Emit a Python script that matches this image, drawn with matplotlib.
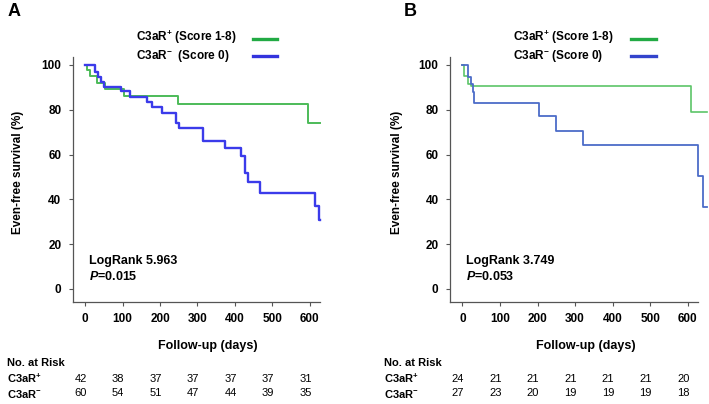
import matplotlib
matplotlib.use("Agg")
import matplotlib.pyplot as plt
from matplotlib.lines import Line2D
import matplotlib.transforms as mtransforms

plt.rcParams['font.family'] = ['Liberation Sans', 'DejaVu Sans']
plt.rcParams['mathtext.fontset'] = 'custom'
plt.rcParams['mathtext.rm'] = 'Liberation Sans:bold'
plt.rcParams['mathtext.bf'] = 'Liberation Sans:bold'
plt.rcParams['mathtext.it'] = 'Liberation Sans:bold:italic'

# ---------------- data ----------------
# Panel A
a_pos_t = [0, 5, 12, 31, 54, 105, 247, 596, 627]
a_pos_s = [100, 97.7, 94.9, 92.1, 89.4, 86.1, 82.5, 74.3, 74.3]
a_neg_t = [0, 27, 35, 43, 51, 96, 120, 164, 178, 206, 244, 250, 315, 373, 416, 427, 435, 467, 613, 625, 627]
a_neg_s = [100, 96.8, 94.8, 92.5, 90.3, 88.2, 85.9, 83.6, 81.2, 78.7, 74.0, 71.7, 65.9, 62.8, 59.4, 51.9, 47.9, 43.0, 37.0, 30.8, 30.8]
# Panel B
b_pos_t = [0, 3, 16, 23, 609, 650]
b_pos_s = [100, 95.2, 91.4, 90.8, 78.8, 78.8]
b_neg_t = [0, 16, 22, 29, 32, 204, 249, 320, 628, 641, 650]
b_neg_s = [100, 94.8, 91.4, 88.1, 83.2, 77.2, 70.7, 64.4, 50.5, 36.5, 36.5]

risk_times = [0, 100, 200, 300, 400, 500, 600]
a_risk_pos = [42, 38, 37, 37, 37, 37, 31]
a_risk_neg = [60, 54, 51, 47, 44, 39, 35]
b_risk_pos = [24, 21, 21, 21, 21, 21, 20]
b_risk_neg = [27, 23, 20, 19, 19, 19, 18]

xticks = [0, 100, 200, 300, 400, 500, 600]
yticks = [0, 20, 40, 60, 80, 100]

W, H = 709, 404
fig = plt.figure(figsize=(W / 100, H / 100), dpi=100)

def fx(px):
    return px / W

def fy(py):
    return 1 - py / H

panels = [
    dict(left=72.7, right=320.0, xmax=627, letter='A', letter_x=8,
         ylab_x=18.5,
         pos=(a_pos_t, a_pos_s), neg=(a_neg_t, a_neg_s),
         gcol='#4cbb58', bcol='#3b3bea', lwg=1.4, lwb=1.7,
         leg_text_x=136.5, leg_line=(253, 277),
         neg_label=r'C3aR$^{-}$  (Score 0)',
         lr='LogRank 5.963', p='=0.015', stat_x=89,
         risk_label_x=7, risk=(a_risk_pos, a_risk_neg),
         leg_g='#22aa44', leg_b='#3333dd'),
    dict(left=450.0, right=698.3, xmax=628, letter='B', letter_x=404,
         ylab_x=397,
         pos=(b_pos_t, b_pos_s), neg=(b_neg_t, b_neg_s),
         gcol='#5cc568', bcol='#4c6cc8', lwg=1.2, lwb=1.3,
         leg_text_x=513.3, leg_line=(631, 656),
         neg_label=r'C3aR$^{-}$ (Score 0)',
         lr='LogRank 3.749', p='=0.053', stat_x=466.5,
         risk_label_x=384, risk=(b_risk_pos, b_risk_neg),
         leg_g='#22aa44', leg_b='#3344cc'),
]

top_px, bot_px = 56.7, 301.7
xmin = -33
ymin, ymax = -5.7, 103.7

for P in panels:
    ax = fig.add_axes([fx(P['left']), fy(bot_px), (P['right'] - P['left']) / W,
                       (bot_px - top_px) / H])
    ax.set_xlim(xmin, P['xmax'])
    ax.set_ylim(ymin, ymax)
    ax.step(P['pos'][0], P['pos'][1], where='post', color=P['gcol'],
            lw=P['lwg'], clip_on=False, zorder=3)
    ax.step(P['neg'][0], P['neg'][1], where='post', color=P['bcol'],
            lw=P['lwb'], clip_on=False, zorder=4)
    for s in ['top', 'right']:
        ax.spines[s].set_visible(False)
    for s in ['left', 'bottom']:
        ax.spines[s].set_color('#555555')
        ax.spines[s].set_linewidth(0.9)
    ax.set_xticks(xticks)
    ax.set_yticks(yticks)
    ax.tick_params(direction='out', length=3.2, width=0.8, color='#555555',
                   labelsize=8.5, pad=5)
    for lab in ax.get_xticklabels() + ax.get_yticklabels():
        lab.set_fontweight('bold')
    ax.tick_params(axis='x', pad=5)
    ax.set_ylabel('Even-free survival (%)', fontsize=8.5, fontweight='bold')
    ax.yaxis.set_label_coords((P['ylab_x'] - P['left']) / (P['right'] - P['left']),
                              (bot_px - 172) / (bot_px - top_px),
                              transform=ax.transAxes)
    ax.yaxis.label.set_va('center')
    ax.text(0.547, (bot_px - 346) / (bot_px - top_px), 'Follow-up (days)',
            transform=ax.transAxes, ha='center', va='center',
            fontsize=9, fontweight='bold')

    # legend (manual, text then line key)
    fig.text(fx(P['leg_text_x']), fy(37.5), r'C3aR$^{+}$ (Score 1-8)',
             ha='left', va='center', fontsize=8.5, fontweight='bold')
    fig.text(fx(P['leg_text_x']), fy(55.5), P['neg_label'],
             ha='left', va='center', fontsize=8.5, fontweight='bold')
    x0, x1 = P['leg_line']
    fig.add_artist(Line2D([fx(x0), fx(x1)], [fy(39.3), fy(39.3)],
                          color=P['leg_g'], lw=2.4, transform=fig.transFigure))
    fig.add_artist(Line2D([fx(x0), fx(x1)], [fy(56), fy(56)],
                          color=P['leg_b'], lw=2.4, transform=fig.transFigure))

    # stats
    fig.text(fx(P['stat_x']), fy(260.7), P['lr'], ha='left', va='center',
             fontsize=9, fontweight='bold')
    fig.text(fx(P['stat_x']), fy(276.5), r'$P$' + P['p'], ha='left', va='center',
             fontsize=9, fontweight='bold')

    # panel letter
    fig.text(fx(P['letter_x']), fy(11.5), P['letter'], ha='left', va='center',
             fontsize=13, fontweight='bold')

    # risk table
    fig.text(fx(P['risk_label_x']), fy(363.5), 'No. at Risk', ha='left',
             va='center', fontsize=8, fontweight='bold')
    fig.text(fx(P['risk_label_x']), fy(378.5), r'C3aR$^{+}$', ha='left',
             va='center', fontsize=8, fontweight='bold')
    fig.text(fx(P['risk_label_x']), fy(393.5), r'C3aR$^{-}$', ha='left',
             va='center', fontsize=8, fontweight='bold')
    trans = mtransforms.blended_transform_factory(ax.transData, fig.transFigure)
    trans = mtransforms.offset_copy(trans, fig=fig, x=-4.5, y=0, units='dots')
    for t, vp, vn in zip(risk_times, P['risk'][0], P['risk'][1]):
        ax.text(t, fy(378.5), str(vp), transform=trans, ha='center',
                va='center', fontsize=8, clip_on=False)
        ax.text(t, fy(393.5), str(vn), transform=trans, ha='center',
                va='center', fontsize=8, clip_on=False)

fig.savefig('out.png', dpi=100)
